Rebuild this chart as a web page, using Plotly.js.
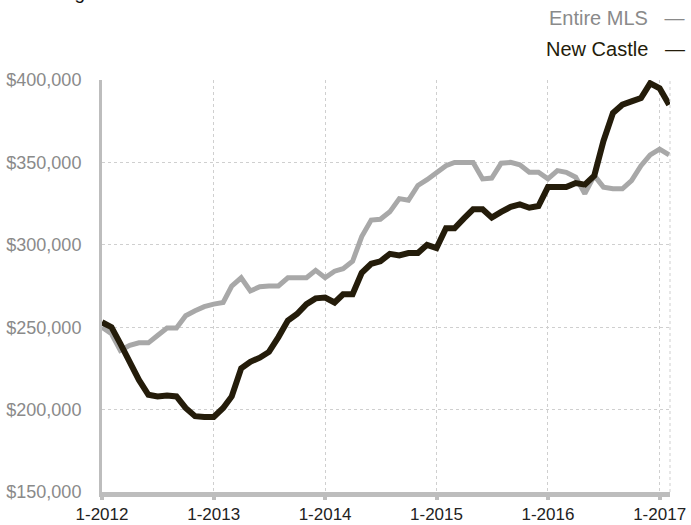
<!DOCTYPE html>
<html>
<head>
<meta charset="utf-8">
<script src="https://cdn.plot.ly/plotly-3.0.1.min.js"></script>
<style>html,body{margin:0;padding:0;background:#fff;}#chart{width:691px;height:525px;}</style>
</head>
<body>
<div id="chart"></div>
<script>
// Monthly dates Jan 2012 .. Feb 2017
const months = [];
for (let y = 2012; y <= 2017; y++) {
  for (let m = 1; m <= 12; m++) {
    if (y === 2017 && m > 2) break;
    months.push(y + '-' + String(m).padStart(2, '0') + '-01');
  }
}
const entireMLS = [
  250000, 246000, 236000, 239000, 240500, 240500, 245000, 249500, 249500, 257000, 260000, 262500,
  264000, 265000, 275000, 280000, 272000, 274500, 275000, 275000, 280000, 280000, 280000, 284500,
  280000, 284000, 285500, 290000, 305000, 315000, 315500, 320000, 328000, 327000, 336000, 339500,
  344000, 348000, 350000, 350000, 350000, 340000, 340500, 349500, 350000, 348500, 344000, 344000,
  340000, 345000, 344000, 341000, 331000, 342000, 335000, 334000, 334000, 339000, 348000, 354500,
  358000, 354500
];
const newCastle = [
  253000, 250000, 240000, 229000, 218000, 209000, 208000, 208500, 208000, 201000, 196000, 195500,
  195500, 201000, 208000, 225000, 229000, 231500, 235000, 244000, 254000, 258000, 264000, 267500,
  268000, 265000, 270000, 270000, 283000, 288500, 290000, 294500, 293500, 295000, 295000, 300000,
  298000, 310000, 310000, 316000, 321500, 321500, 316500, 320000, 323000, 324500, 322500, 323500,
  335000, 335000, 335000, 337500, 336500, 342000, 363000, 380000, 385000, 387000, 389000, 398000,
  395000, 385000
];
const xTickVals = ['2012-01-01', '2013-01-01', '2014-01-01', '2015-01-01', '2016-01-01', '2017-01-01'];
const xTickText = ['1-2012', '1-2013', '1-2014', '1-2015', '1-2016', '1-2017'];
const yTickVals = [150000, 200000, 250000, 300000, 350000, 400000];
const yTickText = ['$150,000', '$200,000', '$250,000', '$300,000', '$350,000', '$400,000'];

const FONT = 'Liberation Sans, Arial, Helvetica, sans-serif';
const GRAY = '#a8a8a8';
const DARK = '#241c0a';

const traces = [
  {x: months, y: entireMLS, type: 'scatter', mode: 'lines', name: 'Entire MLS',
   line: {color: GRAY, width: 5, shape: 'linear'}, hoverinfo: 'skip'},
  {x: months, y: newCastle, type: 'scatter', mode: 'lines', name: 'New Castle',
   line: {color: DARK, width: 6, shape: 'linear'}, hoverinfo: 'skip'}
];

const layout = {
  width: 691, height: 525,
  margin: {l: 102, r: 21, t: 80, b: 33, pad: 0},
  paper_bgcolor: '#fff', plot_bgcolor: '#fff',
  showlegend: false,
  font: {family: FONT},
  xaxis: {
    type: 'date',
    range: ['2012-01-01', '2017-02-04'],
    tickvals: xTickVals, ticktext: xTickText,
    tickfont: {size: 17, color: '#222', family: FONT},
    showgrid: true, gridcolor: '#cfcfcf', griddash: 'dot', gridwidth: 1,
    showline: true, linecolor: '#bdbdbd', linewidth: 5,
    ticks: 'outside', ticklen: 3, tickwidth: 4, tickcolor: '#bdbdbd',
    ticklabelstandoff: 0,
    zeroline: false, fixedrange: true
  },
  yaxis: {
    range: [150000, 400000],
    tickvals: yTickVals, ticktext: yTickText,
    tickfont: {size: 18, color: '#8a8a8a', family: FONT},
    showgrid: true, gridcolor: '#cfcfcf', griddash: 'dot', gridwidth: 1,
    showline: true, linecolor: '#bdbdbd', linewidth: 3,
    ticks: '', ticklabelstandoff: 14,
    zeroline: false, fixedrange: true
  },
  shapes: [
    {type: 'line', xref: 'paper', yref: 'paper', x0: 1, x1: 1, y0: 0, y1: 1,
     line: {color: '#cfcfcf', width: 1, dash: 'dot'}}
  ],
  annotations: [
    {xref: 'paper', yref: 'paper', x: 1.03, y: 1.1505, xanchor: 'right', yanchor: 'middle',
     text: 'Entire MLS\u00a0\u00a0\u00a0—', showarrow: false,
     font: {size: 20, color: '#8a8a8a', family: FONT}},
    {xref: 'paper', yref: 'paper', x: 1.03, y: 1.0752, xanchor: 'right', yanchor: 'middle',
     text: 'New Castle\u00a0\u00a0\u00a0—', showarrow: false,
     font: {size: 20, color: DARK, family: FONT}},
    {xref: 'paper', yref: 'paper', x: (25 - 102) / 568, y: 1.212, xanchor: 'left', yanchor: 'middle',
     text: 'Rolling', showarrow: false,
     font: {size: 19, color: '#111', family: FONT}},
    {xref: 'paper', yref: 'paper', x: (140 - 102) / 568, y: 1.211, xanchor: 'left', yanchor: 'middle',
     text: '12-Month Calculation', showarrow: false,
     font: {size: 14, color: '#8a8a8a', family: FONT}}
  ]
};

Plotly.newPlot('chart', traces, layout, {displayModeBar: false, staticPlot: true});
</script>
</body>
</html>
